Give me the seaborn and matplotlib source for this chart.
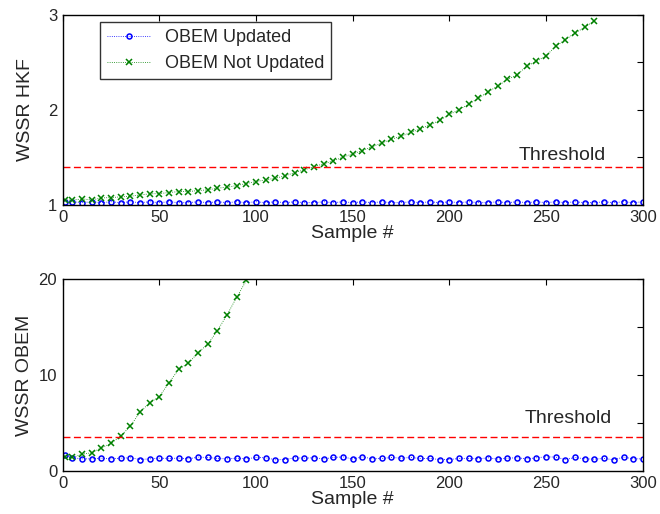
import matplotlib
matplotlib.use("Agg")
import matplotlib.pyplot as plt
import numpy as np
import pandas as pd
import seaborn as sns

# sample index of every plotted point
samples = [1] + list(range(5, 301, 5))

# top panel: WSSR of the HKF
hkf_updated = [1.03, 1.03, 1.02, 1.03, 1.02, 1.03, 1.02, 1.03, 1.02, 1.03,
               1.02, 1.03, 1.02, 1.02, 1.03, 1.02, 1.03, 1.02, 1.03, 1.02,
               1.03, 1.02, 1.03, 1.02, 1.03, 1.02, 1.02, 1.03, 1.02, 1.03,
               1.02, 1.03, 1.02, 1.03, 1.02, 1.02, 1.03, 1.02, 1.03, 1.02,
               1.03, 1.02, 1.03, 1.02, 1.02, 1.03, 1.02, 1.03, 1.02, 1.03,
               1.02, 1.03, 1.02, 1.03, 1.02, 1.02, 1.03, 1.02, 1.03, 1.02, 1.03]
hkf_not_updated = [1.049, 1.046, 1.060, 1.049, 1.070, 1.074, 1.081, 1.088, 1.102, 1.113,
                   1.116, 1.127, 1.137, 1.137, 1.148, 1.155, 1.173, 1.183, 1.201, 1.222,
                   1.243, 1.261, 1.278, 1.303, 1.338, 1.366, 1.401, 1.430, 1.461, 1.50,
                   1.535, 1.57, 1.61, 1.65, 1.69, 1.72, 1.76, 1.80, 1.84, 1.89,
                   1.95, 2.00, 2.06, 2.12, 2.19, 2.25, 2.32, 2.37, 2.46, 2.51,
                   2.57, 2.67, 2.74, 2.81, 2.87, 2.94]
hkf_threshold = 1.4

# bottom panel: WSSR of the OBEM
obem_updated = [1.64, 1.36, 1.25, 1.25, 1.32, 1.25, 1.32, 1.36, 1.18, 1.25,
                1.32, 1.29, 1.32, 1.25, 1.43, 1.39, 1.29, 1.25, 1.32, 1.25,
                1.39, 1.36, 1.15, 1.18, 1.36, 1.32, 1.36, 1.25, 1.39, 1.46,
                1.22, 1.46, 1.25, 1.29, 1.39, 1.32, 1.39, 1.29, 1.29, 1.18,
                1.18, 1.29, 1.29, 1.25, 1.36, 1.22, 1.32, 1.36, 1.25, 1.36,
                1.46, 1.43, 1.18, 1.39, 1.25, 1.22, 1.29, 1.15, 1.43, 1.25, 1.25]
obem_not_updated = [1.39, 1.39, 1.74, 1.88, 2.40, 2.86, 3.62, 4.67, 6.13, 7.11,
                    7.74, 9.20, 10.59, 11.22, 12.33, 13.20, 14.63, 16.27, 18.12, 19.86]
obem_threshold = 3.5

sns.set_theme(style="white")
plt.rcParams["font.family"] = ["Liberation Sans", "DejaVu Sans"]
plt.rcParams["xtick.direction"] = "in"
plt.rcParams["ytick.direction"] = "in"
plt.rcParams["axes.edgecolor"] = "black"
plt.rcParams["axes.linewidth"] = 1.0

fig = plt.figure(figsize=(6.6, 5.14), dpi=100)
ax1 = fig.add_axes([0.095, 0.602, 0.879, 0.369])
ax2 = fig.add_axes([0.095, 0.084, 0.879, 0.373])


def draw_panel(ax, upd, not_upd, thr, legend):
	n = len(not_upd)
	sns.lineplot(x=samples, y=upd, ax=ax, color="blue", linestyle=":", linewidth=0.6,
	             marker="o", markersize=3.6, markerfacecolor="none", markeredgecolor="blue",
	             markeredgewidth=1.1, label="OBEM Updated", legend=False)
	sns.lineplot(x=samples[:n], y=not_upd, ax=ax, color="green", linestyle=":", linewidth=0.6,
	             marker="x", markersize=3.8, markeredgecolor="green", markeredgewidth=1.1,
	             label="OBEM Not Updated", legend=False)
	ax.axhline(thr, color="red", linestyle=(0, (5, 2.5)), linewidth=1.0)
	ax.set_xlim(0, 300)
	ax.set_xticks([0, 50, 100, 150, 200, 250, 300])
	ax.set_xlabel("Sample #", fontsize=14, labelpad=0)
	ax.tick_params(axis="both", which="both", labelsize=12, top=True, right=True,
	               length=4, width=0.8, color="black", pad=4)
	for sp in ax.spines.values():
		sp.set_color("black")
		sp.set_linewidth(1.0)
	if legend:
		leg = ax.legend(loc="upper left", bbox_to_anchor=(0.064, 0.963), borderaxespad=0,
		                fontsize=13, frameon=True, fancybox=False, handlelength=2.4,
		                borderpad=0.4, labelspacing=0.5)
		leg.get_frame().set_edgecolor("black")
		leg.get_frame().set_linewidth(1.0)


draw_panel(ax1, hkf_updated, hkf_not_updated, hkf_threshold, True)
ax1.set_ylim(1, 3)
ax1.set_yticks([1, 1.5, 2, 2.5, 3], labels=["1", "", "2", "", "3"])
ax1.set_ylabel("WSSR HKF", fontsize=14, labelpad=10)
ax1.text(236, 1.52, "Threshold", fontsize=14, ha="left", va="center")

draw_panel(ax2, obem_updated, obem_not_updated, obem_threshold, False)
ax2.set_ylim(0, 20)
ax2.set_yticks([0, 5, 10, 15, 20], labels=["0", "", "10", "", "20"])
ax2.set_ylabel("WSSR OBEM", fontsize=14, labelpad=4)
ax2.text(239, 5.47, "Threshold", fontsize=14, ha="left", va="center")

fig.savefig("out.png", dpi=100)
